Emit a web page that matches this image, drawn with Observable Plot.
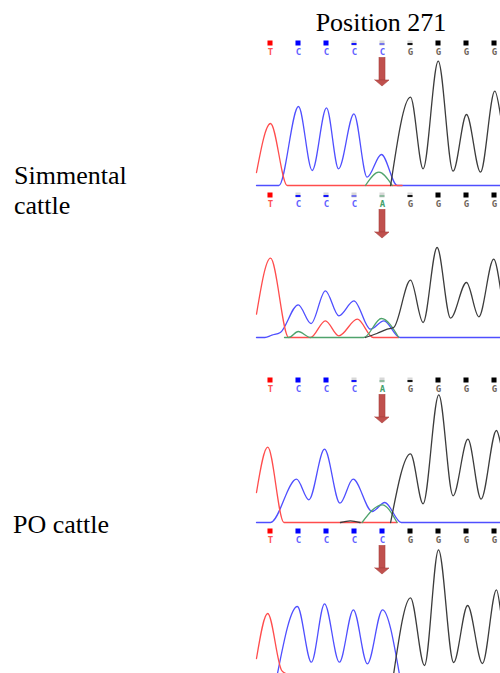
<!DOCTYPE html>
<html><head><meta charset="utf-8">
<script src="https://cdn.jsdelivr.net/npm/d3@7"></script>
<script src="https://cdn.jsdelivr.net/npm/@observablehq/plot@0.6"></script>
<style>
body{margin:0;background:#fff}
#wrap{position:relative;width:500px;height:673px;overflow:hidden;background:#fff}
#wrap svg.panel{position:absolute;left:256px}
#labels{position:absolute;left:0;top:0}
</style>
</head><body><div id="wrap"></div>
<script>
// ---------- data ----------
// base calls (positions 0..8, position 4 = SNP 271)
const calls1 = ["T","C","C","C","C","G","G","G","G"];
const calls2 = ["T","C","C","C","A","G","G","G","G"];
const calls3 = ["T","C","C","C","A","G","G","G","G"];
const calls4 = ["T","C","C","C","C","G","G","G","G"];
// quality bars (1 = full)
const qual1 = [1,1,1,0.45,0.3,0.45,1,1,1];
const qual2 = [1,0.5,0.45,0.3,0.3,0.4,1,1,1];
const qual3 = [1,1,1,0.45,0.3,0.45,1,1,1];
const qual4 = [1,1,1,1,1,1,1,1,1];
const snpIndex = 4;

// traces: [base position, signal height]
const p1Red   = [[-0.5,13],[0,62],[0.6,0],[4.7,0]];
const p1Blue  = [[-0.5,0],[0.3,0],[1,79],[1.49,15],[2,77.7],[2.43,16.7],[2.98,71.7],[3.45,8.3],[3.96,31],[4.53,0],[8.214,0]];
const p1Green = [[3.39,0],[3.87,13.3],[4.35,0]];
const p1Black = [[4.29,0],[5,88.3],[5.45,16.7],[5.99,124.3],[6.52,14.3],[7,71],[7.5,13.3],[8.01,94.3],[8.214,70]];

const p2Red   = [[-0.5,23.3],[0,79.3],[0.65,0],[1.43,0],[1.96,16.7],[2.44,1.7],[3.1,18.3],[3.67,0],[4.57,0]];
const p2Blue  = [[-0.5,0],[-0.2,0],[0.05,2.3],[0.35,5],[0.99,32.7],[1.45,14],[1.96,46.7],[2.44,21.7],[2.98,36.7],[3.57,8.3],[4.05,16.7],[4.62,0],[8.214,0]];
const p2Green = [[0.5,0],[0.65,0],[0.99,6],[1.43,0],[3.33,0],[3.96,19],[4.58,0]];
const p2Black = [[3.39,0],[3.8,4],[4.17,8.3],[4.4,10],[5,57.3],[5.45,15],[5.95,90],[6.43,19.3],[7,55],[7.44,20.7],[7.97,78.3],[8.214,48.3]];

const p3Red   = [[-0.5,30],[-0.1,75.3],[0.48,0],[4.52,0]];
const p3Blue  = [[-0.5,0],[0,0],[0.93,43.3],[1.37,22.7],[1.93,73.3],[2.48,19.3],[2.95,43.3],[3.63,11],[4.08,20],[4.67,0],[8.214,0]];
const p3Green = [[3.27,0],[3.99,17.7],[4.52,0]];
const p3BlackBlob = [[2.5,0],[2.85,1.7],[3.2,0]];
const p3Black = [[4.29,0],[5,68.7],[5.45,18.7],[6.01,127.7],[6.52,26.7],[7.05,83.3],[7.52,23.3],[8.07,92],[8.214,79.3]];

const p4Red   = [[-0.5,15],[-0.1,60],[0.4,3],[0.55,0]];
const p4Blue  = [[0.25,0],[0.96,67],[1.46,11.3],[1.93,69.7],[2.46,11.3],[2.96,63.7],[3.46,9.7],[4,63.7],[4.6,0]];
const p4Black = [[4.4,0],[5,75.7],[5.5,8],[6,123.7],[6.54,11],[7.04,68],[7.57,10],[8.07,83.7],[8.214,63]];

const titleText = "Position 271";
const groupLabels = [["Simmental","cattle"],["PO cattle"]];

// ---------- styles ----------
const C = {red:"#ff4d4d", blue:"#4f4fff", green:"#4fa36c", black:"#3c3c3c"};
const letterColor = {T:"#ff5252", C:"#6262ff", G:"#6e645a", A:"#45a06c"};
const barColor = {T:"#ff0000", C:"#0000ff", G:"#000000", A:"#3a9a5e"};
const X_DOMAIN = [-0.5, 8.214];

const wrap = document.getElementById("wrap");

// text labels
const lab = d3.select(wrap).append("svg").attr("id","labels").attr("width",500).attr("height",673)
  .style("font-family","'Liberation Serif','Times New Roman',serif").style("font-size","26px").attr("fill","#000");
lab.append("text").attr("x",381).attr("y",31).attr("text-anchor","middle").text(titleText);
lab.append("text").attr("x",14).attr("y",184).text(groupLabels[0][0]);
lab.append("text").attr("x",14).attr("y",214).text(groupLabels[0][1]);
lab.append("text").attr("x",13).attr("y",533).text(groupLabels[1][0]);

function panel(calls, qual, traces, baseline) {
  const cells = calls.map((c,i)=>({i, c, q: qual[i]}));
  const marks = [];
  // quality squares
  marks.push(Plot.rect(cells.filter(d=>d.q<1), {x1:d=>d.i-0.09, x2:d=>d.i+0.09, y1:()=>139.5, y2:()=>144.5, fill:"#d8d8d8"}));
  marks.push(Plot.rect(cells.filter(d=>d.q>=1), {x1:d=>d.i-0.09, x2:d=>d.i+0.09, y1:()=>139.5, y2:()=>144.5, fill:d=>barColor[d.c]}));
  marks.push(Plot.rect(cells.filter(d=>d.q<1), {x1:d=>d.i-0.09, x2:d=>d.i+0.09, y1:()=>140, y2:()=>142, fill:d=>barColor[d.c], fillOpacity:d=>d.q<0.35?0.45:0.9}));
  // base letters
  marks.push(Plot.text(cells, {x:"i", y:()=>133, text:"c", fill:d=>letterColor[d.c], fontSize:9, fontWeight:"bold", fontFamily:"DejaVu Sans Mono"}));
  // arrow
  marks.push(Plot.rect([snpIndex], {x1:d=>d-0.107, x2:d=>d+0.107, y1:()=>105, y2:()=>127.5, fill:"#c0504d", stroke:"#a8403d", strokeWidth:0.6}));
  marks.push(Plot.areaY([{x:snpIndex-0.25,t:105,b:105},{x:snpIndex,t:105,b:99},{x:snpIndex+0.25,t:105,b:105}],
    {x:"x", y1:"t", y2:"b", fill:"#c0504d", stroke:"#a8403d", strokeWidth:0.6}));
  // traces
  for (const [pts, col] of traces) {
    marks.push(Plot.line(pts, {x:d=>d[0], y:d=>d[1], stroke:col, strokeWidth:1.3, curve:"monotone-x"}));
  }
  const svg = Plot.plot({
    width:244, height:152, marginLeft:0, marginRight:0, marginTop:0, marginBottom:2,
    x:{domain:X_DOMAIN, axis:null}, y:{domain:[0,150], axis:null},
    style:{background:"transparent", overflow:"visible"},
    marks
  });
  svg.classList.add("panel");
  svg.style.top = (baseline - 150) + "px";
  wrap.appendChild(svg);
}

panel(calls1, qual1, [[p1Blue,C.blue],[p1Red,C.red],[p1Green,C.green],[p1Black,C.black]], 185);
panel(calls2, qual2, [[p2Blue,C.blue],[p2Red,C.red],[p2Green,C.green],[p2Black,C.black]], 337);
panel(calls3, qual3, [[p3Blue,C.blue],[p3Red,C.red],[p3BlackBlob,C.black],[p3Green,C.green],[p3Black,C.black]], 522);
panel(calls4, qual4, [[p4Blue,C.blue],[p4Red,C.red],[p4Black,C.black]], 673);
</script></body></html>
